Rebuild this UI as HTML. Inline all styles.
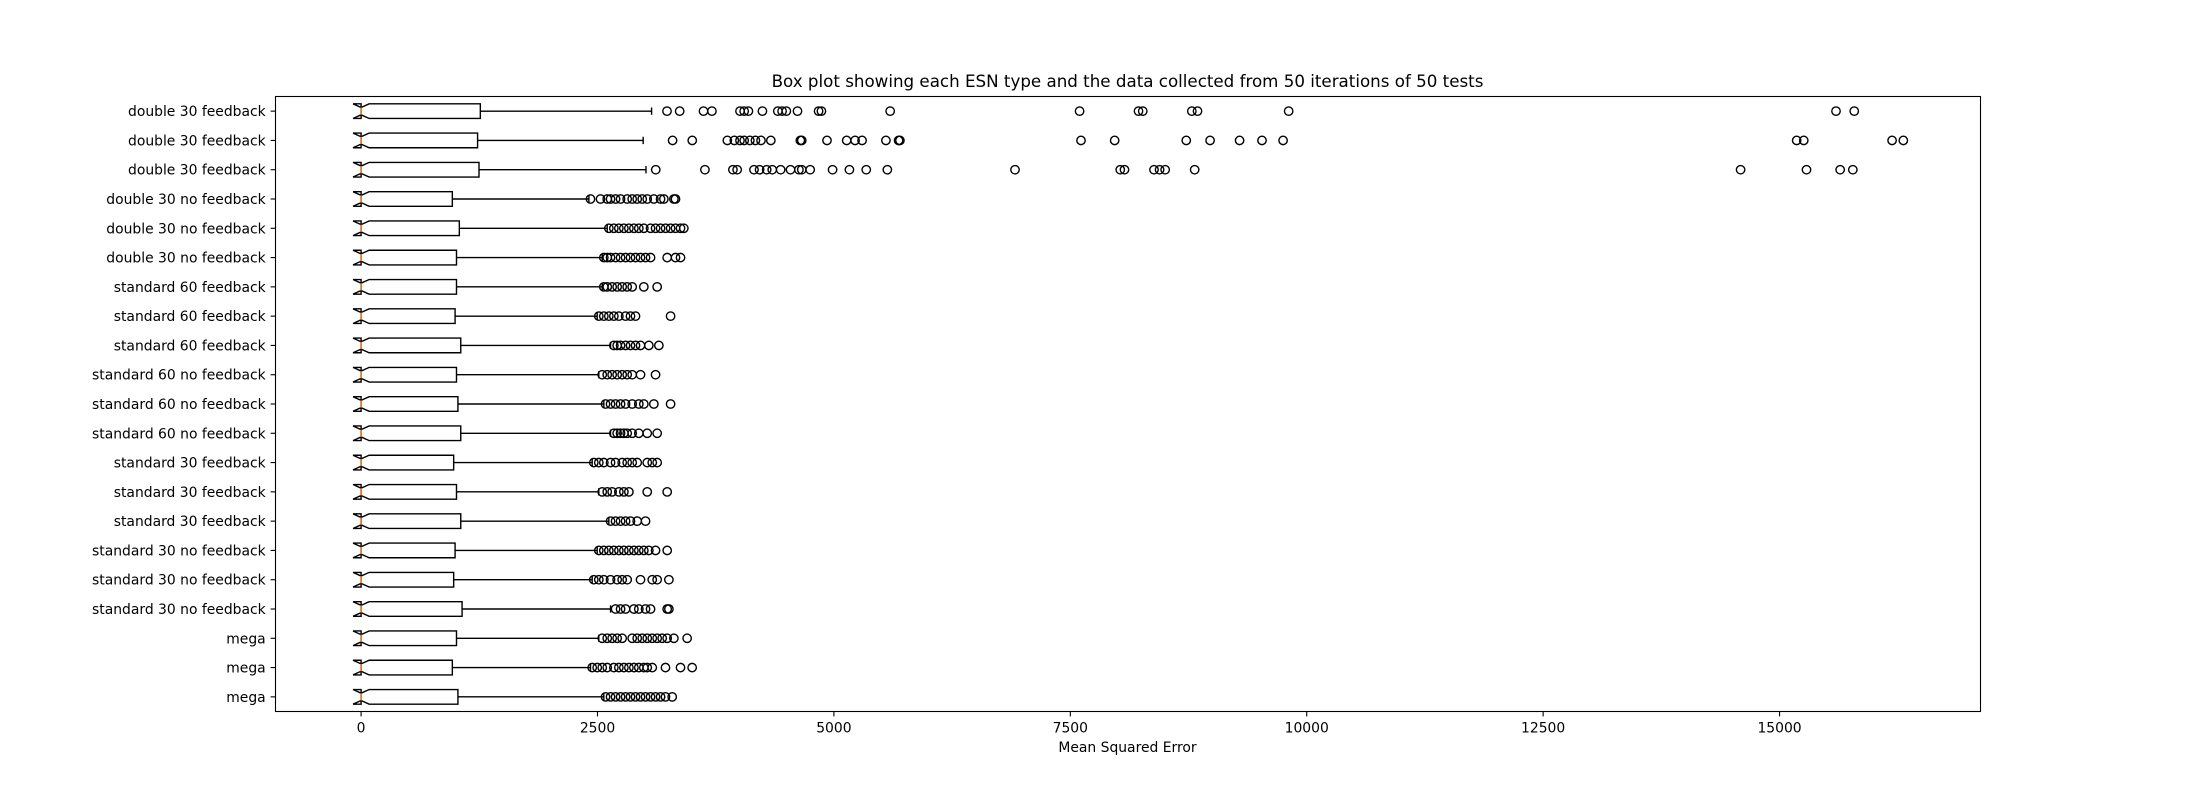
<!DOCTYPE html>
<html><head><meta charset="utf-8"><title>ESN box plot</title>
<style>body{margin:0;background:#fff}svg{display:block;font-family:"DejaVu Sans","Liberation Sans",sans-serif}</style>
</head><body>
<svg id="chart" width="2200" height="800" xmlns="http://www.w3.org/2000/svg">
<rect width="2200" height="800" fill="#fff"/>
<text x="1127.5" y="87" text-anchor="middle" font-size="16.7" fill="#000">Box plot showing each ESN type and the data collected from 50 iterations of 50 tests</text>
<text x="1127.5" y="752" text-anchor="middle" font-size="13.9" fill="#000">Mean Squared Error</text>
<g id="marks"></g>
<rect x="275.5" y="96.5" width="1705" height="615" fill="none" stroke="#000" stroke-width="1.1"/>
<g id="axes"></g>
</svg>
<script>
// Categories listed from bottom (position 1) to top (position 21)
const categories = ["mega","mega","mega","standard 30 no feedback","standard 30 no feedback","standard 30 no feedback","standard 30 feedback","standard 30 feedback","standard 30 feedback","standard 60 no feedback","standard 60 no feedback","standard 60 no feedback","standard 60 feedback","standard 60 feedback","standard 60 feedback","double 30 no feedback","double 30 no feedback","double 30 no feedback","double 30 feedback","double 30 feedback","double 30 feedback"];
const medians = [0,0,0,0,0,0,0,0,0,0,0,0,0,0,0,0,0,0,0,0,0];
const q1s = [0,0,0,0,0,0,0,0,0,0,0,0,0,0,0,0,0,0,0,0,0];
const q3s = [1024,965,1009,1068,979,994,1054,1009,979,1054,1024,1009,1054,994,1009,1009,1039,965,1247,1232,1261];
const whiskerHi = [2567,2426,2514,2638,2444,2497,2620,2514,2444,2638,2567,2514,2638,2497,2550,2550,2603,2409,3013,2983,3072];
const outliers = [
[2585,2638,2691,2744,2797,2849,2902,2955,3008,3061,3114,3167,3219,3290],
[2444,2497,2550,2603,2673,2726,2779,2832,2885,2937,2990,3026,3079,3219,3378,3501],
[2550,2603,2655,2708,2761,2867,2920,2973,3026,3079,3131,3184,3237,3308,3448],
[2691,2744,2797,2885,2937,3008,3061,3237,3255],
[2461,2514,2567,2638,2708,2761,2814,2955,3079,3131,3255],
[2514,2567,2620,2673,2726,2779,2832,2885,2937,2990,3043,3114,3237],
[2638,2691,2744,2797,2849,2920,3008],
[2550,2603,2655,2726,2779,2832,3026,3237],
[2461,2514,2567,2638,2691,2761,2814,2867,2920,3026,3079,3131],
[2673,2708,2744,2779,2814,2867,2937,3026,3131],
[2585,2638,2691,2744,2797,2867,2937,2990,3096,3273],
[2550,2603,2655,2708,2761,2814,2867,2955,3114],
[2673,2708,2744,2797,2849,2902,2955,3043,3149],
[2514,2567,2620,2673,2726,2797,2849,2902,3273],
[2567,2603,2655,2708,2761,2814,2867,2990,3131],
[2567,2603,2638,2691,2744,2797,2849,2902,2955,3008,3061,3237,3325,3378],
[2620,2673,2726,2779,2832,2885,2937,2990,3061,3114,3167,3220,3273,3325,3378,3413],
[2426,2532,2603,2638,2691,2744,2814,2867,2920,2973,3026,3096,3167,3202,3308,3325],
[3116,3636,3932,3977,4155,4214,4289,4348,4437,4541,4630,4660,4749,4986,5164,5342,5565,6915,8028,8073,8385,8444,8503,8815,14588,15285,15641,15775],
[3294,3502,3873,3947,4007,4051,4111,4170,4229,4333,4645,4660,4927,5135,5224,5298,5550,5684,5698,7613,7969,8726,8978,9290,9527,9750,15181,15256,16190,16309],
[3235,3369,3621,3710,4007,4051,4096,4244,4407,4452,4497,4615,4838,4868,5595,7598,8221,8266,8785,8845,9809,15597,15790]
];
const notchHalf = [85,85,85,85,85,85,85,85,85,85,85,85,85,85,85,85,85,85,85,85,85];
const xTicks = [0,2500,5000,7500,10000,12500,15000];

const NS = "http://www.w3.org/2000/svg";
const L = 275.5, R = 1980.5, T = 96.5, B = 711.5;
const xMin = -905, xMax = 17125;
function xs(v){ return L + (v - xMin) / (xMax - xMin) * (R - L); }
function ys(p){ return B - (p - 0.5) / 21 * (B - T); }
function mk(tag, attrs, parent){ const e = document.createElementNS(NS, tag); for (const k in attrs) e.setAttribute(k, attrs[k]); parent.appendChild(e); return e; }
const marks = document.getElementById('marks');
const axes = document.getElementById('axes');
const bw = 0.5 * (B - T) / 21;

categories.forEach((c, i) => {
  const y = ys(i + 1);
  const g = mk('g', {}, marks);
  
  
  const q1 = xs(q1s[i]), q3 = xs(q3s[i]), md = xs(medians[i]);
  const nlo = xs(medians[i] - notchHalf[i]), nhi = xs(medians[i] + notchHalf[i]);
  const h = bw / 2, w = bw / 4;
  const box = mk('path', {d: `M${q1},${y+h}L${nlo},${y+h}L${md},${y+w}L${nhi},${y+h}L${q3},${y+h}L${q3},${y-h}L${nhi},${y-h}L${md},${y-w}L${nlo},${y-h}L${q1},${y-h}Z`, fill: '#fff', stroke: '#000', 'stroke-width': 1.4}, g);
  
  
  const med = mk('line', {x1: md, x2: md, y1: y - w, y2: y + w, stroke: '#ff7f0e', 'stroke-width': 1.4}, g);
  
  
  const wh = mk('line', {x1: q3, x2: xs(whiskerHi[i]), y1: y, y2: y, stroke: '#000', 'stroke-width': 1.4}, g);
  
  
  const cap = mk('line', {x1: xs(whiskerHi[i]), x2: xs(whiskerHi[i]), y1: y - bw / 4, y2: y + bw / 4, stroke: '#000', 'stroke-width': 1.4}, g);
  
  
  outliers[i].forEach(v => {
    const o = mk('circle', {cx: xs(v), cy: y, r: 4.2, fill: 'none', stroke: '#000', 'stroke-width': 1.4}, g);
    
    
  });
  const tk = mk('line', {x1: L - 4.9, x2: L, y1: y, y2: y, stroke: '#000', 'stroke-width': 1.1}, axes);
  
  
  const lb = mk('text', {x: L - 9.8, y: y + 5, 'text-anchor': 'end', 'font-size': 13.9, fill: '#000'}, axes);
  lb.textContent = c;
  
  
});

xTicks.forEach(v => {
  const x = xs(v);
  const tk = mk('line', {x1: x, x2: x, y1: B, y2: B + 4.9, stroke: '#000', 'stroke-width': 1.1}, axes);
  
  
  const lb = mk('text', {x: x, y: B + 21, 'text-anchor': 'middle', 'font-size': 13.9, fill: '#000'}, axes);
  lb.textContent = String(v);
  
  
});
</script>
</body></html>
